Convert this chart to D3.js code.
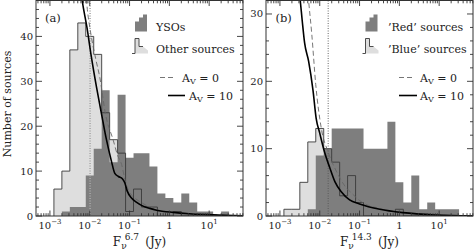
<!DOCTYPE html>
<html><head><meta charset="utf-8">
<script src="https://cdn.jsdelivr.net/npm/d3@7"></script>
<style>body{margin:0;background:#fff}svg{display:block}text{font-family:"DejaVu Serif",serif;fill:#222}</style>
</head><body><svg id="c" width="474" height="250"></svg>
<script>
// bin centres, log10 of flux in Jy (bins 0.2 dex wide)
const binCentersLog = [-2.8,-2.6,-2.4,-2.2,-2.0,-1.8,-1.6,-1.4,-1.2,-1.0,-0.8,-0.6,-0.4,-0.2,0.0,0.2,0.4,0.6,0.8,1.0,1.2,1.4,1.6];
// panel (a) F 6.7
const ysoCounts   = [0,1,2,2,9,15,28,12,27,13,14,14,11,5,4,3,5,3,1,1,0,1,0];
const otherCounts = [6,10,37,43,40,36,23,17,14,1,6,2,2,0,0,1,0,0,0,0,0,0,0];
// panel (b) F 14.3
const redCounts   = [0,0,0,1,9,10,13,13,13,13,10,10,10,14,5,2,6,1,2,1,1,1,0];
const blueCounts  = [1,1,5,11,13,10,8,3,6,2,0,0,0,0,1,0,0,0,0,0,0,0,0];
// model curves [log10 flux, number]
const av0A  = [[-2.12,52],[-2.06,46],[-1.98,41],[-1.85,35],[-1.75,31],[-1.6,22.5],[-1.41,16.9],[-1.3,13.5],[-1.2,11.5],[-1.1,7.5],[-0.98,5],[-0.87,4],[-0.7,3],[-0.57,2.3],[-0.4,1.7],[-0.32,1.4],[0.1,0.85],[0.5,0.5],[1.0,0.3],[1.4,0.15],[1.85,0.05]];
const av10A = [[-2.25,52],[-2.19,48],[-2.07,42],[-1.96,35.5],[-1.83,28.7],[-1.71,23],[-1.58,17],[-1.46,12.4],[-1.37,9.5],[-1.28,8.8],[-1.18,8.3],[-1.12,7.4],[-1.06,5.6],[-0.95,4.0],[-0.83,3.1],[-0.66,2.2],[-0.49,1.7],[-0.32,1.3],[0.1,0.8],[0.5,0.5],[0.94,0.3],[1.4,0.15],[1.85,0.05]];
const av0B  = [[-2.31,34],[-2.28,32],[-2.2,27],[-2.1,19.5],[-1.96,13],[-1.79,9.5],[-1.57,6.5],[-1.35,4.3],[-1.2,3.4],[-1.0,2.3],[-0.49,1.1],[0.09,0.5],[0.94,0.15],[1.85,0.02]];
const av10B = [[-2.53,34],[-2.49,32],[-2.44,29],[-2.38,25.7],[-2.28,23],[-2.17,18.7],[-2.09,14.5],[-2.0,12.3],[-1.88,9.5],[-1.75,7.2],[-1.62,5.1],[-1.46,3.6],[-1.25,2.4],[-1.0,1.8],[-0.49,1.0],[0.09,0.5],[0.94,0.15],[1.85,0.02]];
const limitA = 0.0102, limitB = 0.0163;
const xTickExps = [-3,-2,-1,0,1];
const yTicksA = [0,10,20,30,40], yTicksB = [0,10,20,30];
const xDomainLog = [-3.35, 1.85];

const svg = d3.select('#c');
const W = 207, H = 215.5, topY = 0.5;
const binHalf = 0.1;

function drawPanel(cfg){
  const g = svg.append('g').attr('transform',`translate(${cfg.left},${topY})`);
  const x = d3.scaleLog().domain(xDomainLog.map(v=>10**v)).range([0,W]);
  const y = d3.scaleLinear().domain([0,cfg.ymax]).range([H,0]);
  const clipId = 'clip'+cfg.name;
  g.append('clipPath').attr('id',clipId).append('rect').attr('width',W).attr('height',H);
  const pg = g.append('g').attr('clip-path',`url(#${clipId})`);
  function step(counts){
    let p = `M${x(10**(binCentersLog[0]-binHalf))},${y(0)}`;
    counts.forEach((c,i)=>{
      const x0 = x(10**(binCentersLog[i]-binHalf)), x1 = x(10**(binCentersLog[i]+binHalf));
      p += `L${x0},${y(c)}L${x1},${y(c)}`;
    });
    p += `L${x(10**(binCentersLog[counts.length-1]+binHalf))},${y(0)}`;
    return p;
  }
  pg.append('path').attr('d',step(cfg.light)+'Z').attr('fill','#dedede');
  pg.append('path').attr('d',step(cfg.dark)+'Z').attr('fill','#7e7e7e');
  pg.append('path').attr('d',step(cfg.light)).attr('fill','none').attr('stroke','#3a3a3a').attr('stroke-width',0.9);
  pg.append('line').attr('x1',x(cfg.limit)).attr('x2',x(cfg.limit)).attr('y1',0).attr('y2',H)
    .attr('stroke',cfg.limitColor).attr('stroke-width',cfg.limitWidth).attr('stroke-dasharray','1,1.5');
  const line = d3.line().x(d=>x(10**d[0])).y(d=>y(d[1])).curve(d3.curveMonotoneX);
  pg.append('path').attr('d',line(cfg.av0)).attr('fill','none').attr('stroke','#666').attr('stroke-width',0.9).attr('stroke-dasharray','5,3');
  pg.append('path').attr('d',line(cfg.av10)).attr('fill','none').attr('stroke','#000').attr('stroke-width',1.6);
  g.append('rect').attr('width',W).attr('height',H).attr('fill','none').attr('stroke','#333').attr('stroke-width',1);
  const majors = xTickExps.map(e=>10**e);
  const minors = [];
  for(let e=-4;e<=1;e++) for(let m=2;m<=9;m++){const v=m*10**e; if(Math.log10(v)>=xDomainLog[0]&&Math.log10(v)<=xDomainLog[1]) minors.push(v);}
  const tk = g.append('g').attr('stroke','#333').attr('stroke-width',0.9);
  majors.forEach(v=>{const xx=x(v);
    tk.append('line').attr('x1',xx).attr('x2',xx).attr('y1',H).attr('y2',H-5.5);
    tk.append('line').attr('x1',xx).attr('x2',xx).attr('y1',0).attr('y2',5.5);});
  minors.forEach(v=>{const xx=x(v);
    tk.append('line').attr('x1',xx).attr('x2',xx).attr('y1',H).attr('y2',H-2.8);
    tk.append('line').attr('x1',xx).attr('x2',xx).attr('y1',0).attr('y2',2.8);});
  for(let v=0; v<=cfg.ymax; v+=2){
    const yy=y(v), L = v%10===0?6:3;
    tk.append('line').attr('x1',0).attr('x2',L).attr('y1',yy).attr('y2',yy);
    tk.append('line').attr('x1',W).attr('x2',W-L).attr('y1',yy).attr('y2',yy);
  }
  xTickExps.forEach(e=>{
    const t = g.append('text').attr('x',x(10**e)).attr('y',H+12.5).attr('text-anchor','middle').attr('font-size',10);
    if(e===0){ t.text('1'); }
    else { t.append('tspan').text('10'); t.append('tspan').attr('dy',-4.5).attr('font-size',7).text(String(e).replace('-','\u2212')); }
  });
  cfg.yTicks.forEach(v=>{
    g.append('text').attr('x',-3).attr('y',y(v)).attr('dy','0.35em').attr('text-anchor','end').attr('font-size',10).text(v);
  });
  const xt = g.append('text').attr('x',W/2).attr('y',245).attr('text-anchor','middle').attr('font-size',12);
  xt.append('tspan').text('F');
  xt.append('tspan').attr('dy',3).attr('font-size',9).text('\u03bd');
  xt.append('tspan').attr('dy',-9).attr('dx',-2).attr('font-size',9).text(cfg.band);
  xt.append('tspan').attr('dy',6).text('\u2009 (Jy)');
  g.append('text').attr('x',cfg.labX).attr('y',21.5).attr('font-size',11.5).text(cfg.label);
  const lg = g.append('g');
  const dx = cfg.iconX;
  lg.append('path').attr('d',`M${dx},31 L${dx},21 L${dx+4},21 L${dx+4},17 L${dx+8},17 L${dx+8},14 L${dx+12},14 L${dx+12},31 Z`).attr('fill','#7e7e7e');
  const lx = cfg.iconX-3;
  lg.append('path').attr('d',`M${lx},53 L${lx+3},53 L${lx+3},38 L${lx+7},38 L${lx+7},46 L${lx+11},46 L${lx+16},50 L${lx+16},53 Z`).attr('fill','#dedede');
  lg.append('path').attr('d',`M${lx},53 L${lx+3},53 L${lx+3},38 L${lx+7},38 L${lx+7},46 L${lx+11},46`).attr('fill','none').attr('stroke','#3a3a3a').attr('stroke-width',0.9);
  lg.append('text').attr('x',cfg.textX).attr('y',30).attr('font-size',11).text(cfg.darkName);
  lg.append('text').attr('x',cfg.textX).attr('y',52).attr('font-size',11).text(cfg.lightName);
  lg.append('line').attr('x1',cfg.d0[0]).attr('x2',cfg.d0[1]).attr('y1',77).attr('y2',77).attr('stroke','#666').attr('stroke-width',0.9).attr('stroke-dasharray','5,3');
  lg.append('line').attr('x1',cfg.d10[0]).attr('x2',cfg.d10[1]).attr('y1',95).attr('y2',95).attr('stroke','#000').attr('stroke-width',1.6);
  function av(tx,ty,val){
    const t = lg.append('text').attr('x',tx).attr('y',ty).attr('font-size',11);
    t.append('tspan').text('A');
    t.append('tspan').attr('dy',2.5).attr('font-size',8).text('V');
    t.append('tspan').attr('dy',-2.5).text(' = '+val);
  }
  av(cfg.t0,81,'0');
  av(cfg.t10,99,'10');
}

drawPanel({name:'a',left:36,ymax:48,yTicks:yTicksA,light:otherCounts,dark:ysoCounts,av0:av0A,av10:av10A,
  limit:limitA,limitColor:'#a8a8a8',limitWidth:1.6,band:'6.7',label:'(a)',labX:9,
  iconX:99,textX:120,darkName:'YSOs',lightName:'Other sources',d0:[124,140],d10:[132,149],t0:146,t10:153});
drawPanel({name:'b',left:266,ymax:32,yTicks:yTicksB,light:blueCounts,dark:redCounts,av0:av0B,av10:av10B,
  limit:limitB,limitColor:'#555',limitWidth:0.9,band:'14.3',label:'(b)',labX:9.5,
  iconX:99.5,textX:122,darkName:'\u2019Red\u2019 sources',lightName:'\u2019Blue\u2019 sources',d0:[133,148],d10:[133,151],t0:154,t10:154});

svg.append('text').attr('transform','translate(10.5,104) rotate(-90)').attr('text-anchor','middle').attr('font-size',11).text('Number of sources');
</script></body></html>
